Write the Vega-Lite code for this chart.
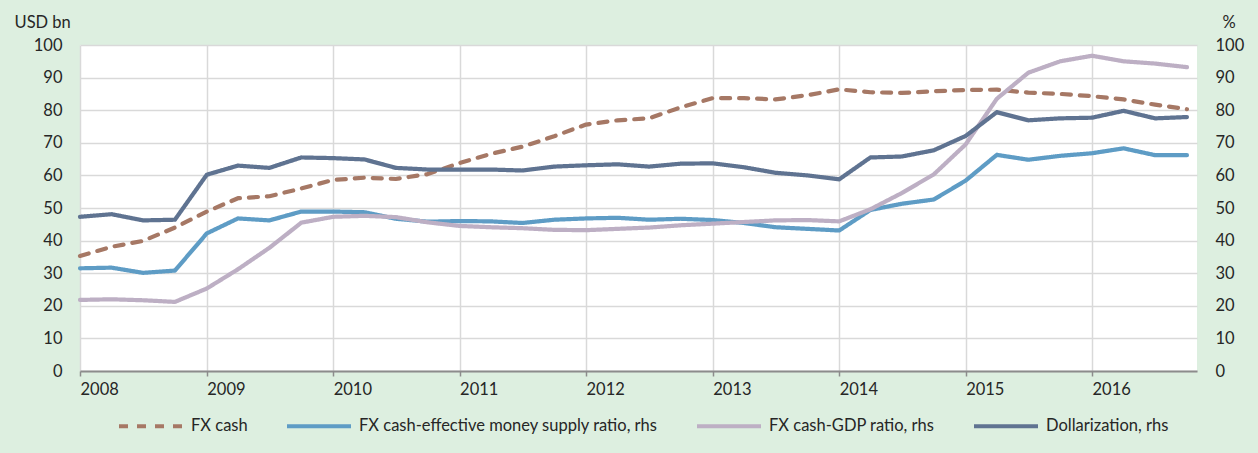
{
  "$schema": "https://vega.github.io/schema/vega-lite/v6.json",
  "width": 1117,
  "height": 326,
  "autosize": {"type": "none"},
  "padding": {"left": 80, "top": 45, "right": 61, "bottom": 82},
  "background": "#DDEFE0",
  "config": {
    "view": {"fill": "white", "stroke": null},
    "font": "Lato",
    "axis": {
      "labelFont": "Lato",
      "labelFontSize": 16.5,
      "labelColor": "#262626",
      "titleFont": "Lato",
      "titleFontSize": 16.5,
      "titleColor": "#262626",
      "titleFontWeight": "normal",
      "gridColor": "#d9d9d9",
      "gridWidth": 1.5
    },
    "legend": {
      "labelFont": "Lato",
      "labelFontSize": 16.5,
      "labelColor": "#262626"
    }
  },
  "data": {
    "values": [
      {"date": "2008-01-01", "FX cash": 35.3, "FX cash-effective money supply ratio, rhs": 31.5, "FX cash-GDP ratio, rhs": 21.8, "Dollarization, rhs": 47.3},
      {"date": "2008-04-01", "FX cash": 38.1, "FX cash-effective money supply ratio, rhs": 31.7, "FX cash-GDP ratio, rhs": 22.0, "Dollarization, rhs": 48.1},
      {"date": "2008-07-01", "FX cash": 39.9, "FX cash-effective money supply ratio, rhs": 30.1, "FX cash-GDP ratio, rhs": 21.7, "Dollarization, rhs": 46.2},
      {"date": "2008-10-01", "FX cash": 44.0, "FX cash-effective money supply ratio, rhs": 30.8, "FX cash-GDP ratio, rhs": 21.2, "Dollarization, rhs": 46.4},
      {"date": "2009-01-01", "FX cash": 48.9, "FX cash-effective money supply ratio, rhs": 42.2, "FX cash-GDP ratio, rhs": 25.3, "Dollarization, rhs": 60.2},
      {"date": "2009-04-01", "FX cash": 53.0, "FX cash-effective money supply ratio, rhs": 46.8, "FX cash-GDP ratio, rhs": 31.2, "Dollarization, rhs": 63.0},
      {"date": "2009-07-01", "FX cash": 53.6, "FX cash-effective money supply ratio, rhs": 46.2, "FX cash-GDP ratio, rhs": 37.8, "Dollarization, rhs": 62.3},
      {"date": "2009-10-01", "FX cash": 56.0, "FX cash-effective money supply ratio, rhs": 48.9, "FX cash-GDP ratio, rhs": 45.5, "Dollarization, rhs": 65.5},
      {"date": "2010-01-01", "FX cash": 58.6, "FX cash-effective money supply ratio, rhs": 48.9, "FX cash-GDP ratio, rhs": 47.3, "Dollarization, rhs": 65.3},
      {"date": "2010-04-01", "FX cash": 59.3, "FX cash-effective money supply ratio, rhs": 48.7, "FX cash-GDP ratio, rhs": 47.6, "Dollarization, rhs": 64.9},
      {"date": "2010-07-01", "FX cash": 58.9, "FX cash-effective money supply ratio, rhs": 46.7, "FX cash-GDP ratio, rhs": 47.2, "Dollarization, rhs": 62.3},
      {"date": "2010-10-01", "FX cash": 60.4, "FX cash-effective money supply ratio, rhs": 45.8, "FX cash-GDP ratio, rhs": 45.6, "Dollarization, rhs": 61.8},
      {"date": "2011-01-01", "FX cash": 63.8, "FX cash-effective money supply ratio, rhs": 46.0, "FX cash-GDP ratio, rhs": 44.5, "Dollarization, rhs": 61.8},
      {"date": "2011-04-01", "FX cash": 66.6, "FX cash-effective money supply ratio, rhs": 45.9, "FX cash-GDP ratio, rhs": 44.1, "Dollarization, rhs": 61.8},
      {"date": "2011-07-01", "FX cash": 68.8, "FX cash-effective money supply ratio, rhs": 45.4, "FX cash-GDP ratio, rhs": 43.8, "Dollarization, rhs": 61.5},
      {"date": "2011-10-01", "FX cash": 72.0, "FX cash-effective money supply ratio, rhs": 46.4, "FX cash-GDP ratio, rhs": 43.3, "Dollarization, rhs": 62.7},
      {"date": "2012-01-01", "FX cash": 75.6, "FX cash-effective money supply ratio, rhs": 46.8, "FX cash-GDP ratio, rhs": 43.2, "Dollarization, rhs": 63.1},
      {"date": "2012-04-01", "FX cash": 76.9, "FX cash-effective money supply ratio, rhs": 47.0, "FX cash-GDP ratio, rhs": 43.6, "Dollarization, rhs": 63.4},
      {"date": "2012-07-01", "FX cash": 77.5, "FX cash-effective money supply ratio, rhs": 46.4, "FX cash-GDP ratio, rhs": 44.0, "Dollarization, rhs": 62.7},
      {"date": "2012-10-01", "FX cash": 80.9, "FX cash-effective money supply ratio, rhs": 46.7, "FX cash-GDP ratio, rhs": 44.7, "Dollarization, rhs": 63.6},
      {"date": "2013-01-01", "FX cash": 83.7, "FX cash-effective money supply ratio, rhs": 46.3, "FX cash-GDP ratio, rhs": 45.2, "Dollarization, rhs": 63.7},
      {"date": "2013-04-01", "FX cash": 83.7, "FX cash-effective money supply ratio, rhs": 45.4, "FX cash-GDP ratio, rhs": 45.7, "Dollarization, rhs": 62.5},
      {"date": "2013-07-01", "FX cash": 83.3, "FX cash-effective money supply ratio, rhs": 44.1, "FX cash-GDP ratio, rhs": 46.2, "Dollarization, rhs": 60.8},
      {"date": "2013-10-01", "FX cash": 84.6, "FX cash-effective money supply ratio, rhs": 43.6, "FX cash-GDP ratio, rhs": 46.3, "Dollarization, rhs": 60.0},
      {"date": "2014-01-01", "FX cash": 86.4, "FX cash-effective money supply ratio, rhs": 43.1, "FX cash-GDP ratio, rhs": 45.9, "Dollarization, rhs": 58.8},
      {"date": "2014-04-01", "FX cash": 85.5, "FX cash-effective money supply ratio, rhs": 49.4, "FX cash-GDP ratio, rhs": 49.6, "Dollarization, rhs": 65.5},
      {"date": "2014-07-01", "FX cash": 85.3, "FX cash-effective money supply ratio, rhs": 51.3, "FX cash-GDP ratio, rhs": 54.6, "Dollarization, rhs": 65.8},
      {"date": "2014-10-01", "FX cash": 85.8, "FX cash-effective money supply ratio, rhs": 52.6, "FX cash-GDP ratio, rhs": 60.3, "Dollarization, rhs": 67.7},
      {"date": "2015-01-01", "FX cash": 86.2, "FX cash-effective money supply ratio, rhs": 58.4, "FX cash-GDP ratio, rhs": 69.5, "Dollarization, rhs": 72.1},
      {"date": "2015-04-01", "FX cash": 86.3, "FX cash-effective money supply ratio, rhs": 66.3, "FX cash-GDP ratio, rhs": 83.5, "Dollarization, rhs": 79.4},
      {"date": "2015-07-01", "FX cash": 85.4, "FX cash-effective money supply ratio, rhs": 64.8, "FX cash-GDP ratio, rhs": 91.5, "Dollarization, rhs": 76.9},
      {"date": "2015-10-01", "FX cash": 85.0, "FX cash-effective money supply ratio, rhs": 66.0, "FX cash-GDP ratio, rhs": 95.0, "Dollarization, rhs": 77.5},
      {"date": "2016-01-01", "FX cash": 84.3, "FX cash-effective money supply ratio, rhs": 66.8, "FX cash-GDP ratio, rhs": 96.7, "Dollarization, rhs": 77.7},
      {"date": "2016-04-01", "FX cash": 83.3, "FX cash-effective money supply ratio, rhs": 68.3, "FX cash-GDP ratio, rhs": 95.0, "Dollarization, rhs": 79.8},
      {"date": "2016-07-01", "FX cash": 81.7, "FX cash-effective money supply ratio, rhs": 66.2, "FX cash-GDP ratio, rhs": 94.3, "Dollarization, rhs": 77.5},
      {"date": "2016-10-01", "FX cash": 80.3, "FX cash-effective money supply ratio, rhs": 66.2, "FX cash-GDP ratio, rhs": 93.2, "Dollarization, rhs": 77.9}
    ]
  },
  "transform": [
    {"fold": ["FX cash", "FX cash-effective money supply ratio, rhs", "FX cash-GDP ratio, rhs", "Dollarization, rhs"], "as": ["series", "value"]}
  ],
  "encoding": {
    "x": {
      "field": "date",
      "type": "temporal",
      "scale": {"type": "utc", "domain": [{"year": 2008, "month": 1, "date": 1, "utc": true}, {"year": 2016, "month": 10, "date": 30, "utc": true}]},
      "axis": {
        "title": null,
        "format": "%Y",
        "tickCount": {"interval": "year", "step": 1},
        "labelAlign": "left",
        "labelPadding": 5,
        "tickSize": 5,
        "tickColor": "#8c8c8c",
        "tickWidth": 1.5,
        "domainColor": "#8c8c8c",
        "domainWidth": 2,
        "grid": true,
        "labelOverlap": false,
        "labelFlush": false
      }
    },
    "color": {
      "field": "series",
      "type": "nominal",
      "scale": {
        "domain": ["FX cash", "FX cash-effective money supply ratio, rhs", "FX cash-GDP ratio, rhs", "Dollarization, rhs"],
        "range": ["#A67865", "#5E9CC5", "#BDAFC4", "#5F7391"]
      },
      "legend": {
        "title": null,
        "orient": "none",
        "direction": "horizontal",
        "legendX": 37,
        "legendY": 347,
        "symbolType": "stroke",
        "symbolSize": 4096,
        "symbolStrokeWidth": 4,
        "labelOffset": 6,
        "columnPadding": 31,
        "padding": 0,
        "labelLimit": 500
      }
    },
    "strokeDash": {
      "field": "series",
      "type": "nominal",
      "scale": {
        "domain": ["FX cash", "FX cash-effective money supply ratio, rhs", "FX cash-GDP ratio, rhs", "Dollarization, rhs"],
        "range": [[9, 9], [1, 0], [1, 0], [1, 0]]
      },
      "legend": {
        "title": null,
        "orient": "none",
        "direction": "horizontal",
        "legendX": 37,
        "legendY": 347,
        "symbolType": "stroke",
        "symbolSize": 4096,
        "symbolStrokeWidth": 4,
        "labelOffset": 6,
        "columnPadding": 31,
        "padding": 0,
        "labelLimit": 500
      }
    }
  },
  "layer": [
    {
      "transform": [{"filter": "datum.series === 'FX cash'"}],
      "mark": {"type": "line", "strokeWidth": 4.2, "strokeCap": "round", "strokeJoin": "round"},
      "encoding": {
        "y": {
          "field": "value",
          "type": "quantitative",
          "scale": {"domain": [0, 100], "nice": false},
          "axis": {
            "orient": "left",
            "values": [0, 10, 20, 30, 40, 50, 60, 70, 80, 90, 100],
            "ticks": false,
            "domain": false,
            "grid": true,
            "labelPadding": 18,
            "title": "USD bn",
            "titleAngle": 0,
            "titleAlign": "left",
            "titleBaseline": "middle",
            "titleX": -66,
            "titleY": -23
          }
        }
      }
    },
    {
      "transform": [{"filter": "datum.series !== 'FX cash'"}],
      "mark": {"type": "line", "strokeWidth": 4.2, "strokeCap": "round", "strokeJoin": "round"},
      "encoding": {
        "y": {
          "field": "value",
          "type": "quantitative",
          "scale": {"domain": [0, 100], "nice": false},
          "axis": {
            "orient": "right",
            "values": [0, 10, 20, 30, 40, 50, 60, 70, 80, 90, 100],
            "ticks": false,
            "domain": false,
            "grid": false,
            "labelPadding": 18,
            "title": "%",
            "titleAngle": 0,
            "titleAlign": "left",
            "titleBaseline": "middle",
            "titleX": 25,
            "titleY": -23
          }
        }
      }
    }
  ],
  "resolve": {"scale": {"y": "independent"}}
}
